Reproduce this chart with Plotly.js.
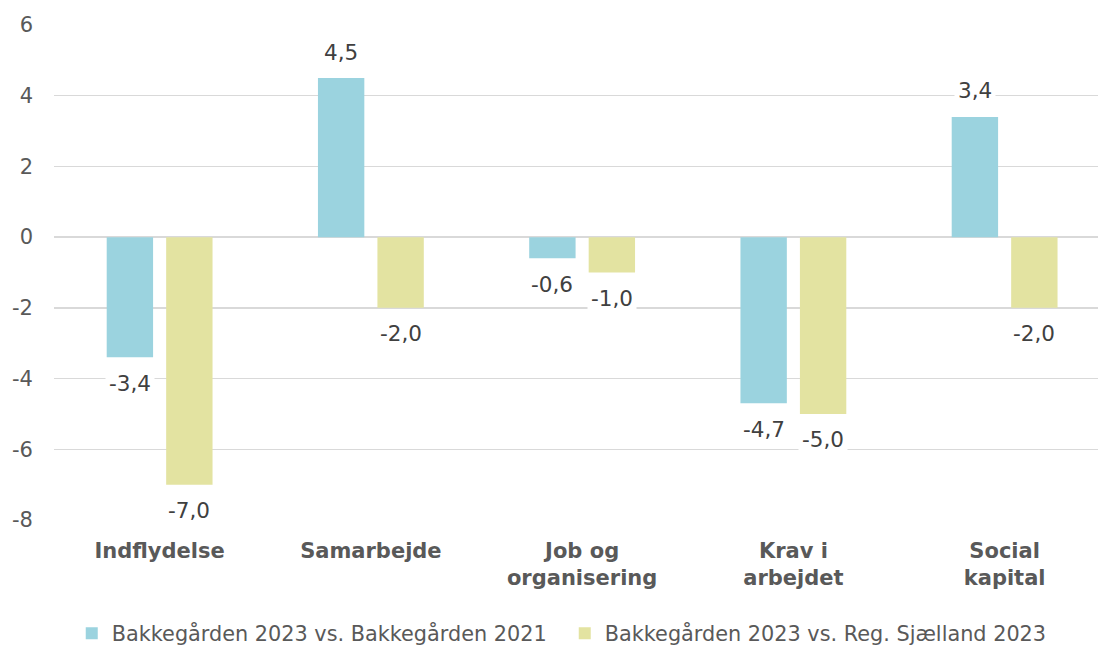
<!DOCTYPE html>
<html>
<head>
<meta charset="utf-8">
<script src="https://cdn.plot.ly/plotly-3.0.1.min.js"></script>
<style>html,body{margin:0;padding:0;background:#fff;overflow:hidden}</style>
</head>
<body>
<div id="chart" style="width:1098px;height:647px"></div>
<script>
const categories = ["Indflydelse", "Samarbejde", "Job og<br>organisering", "Krav i<br>arbejdet", "Social<br>kapital"];
const seriesNames = ["Bakkegården 2023 vs. Bakkegården 2021", "Bakkegården 2023 vs. Reg. Sjælland 2023"];
const series1 = [-3.4, 4.5, -0.6, -4.7, 3.4];
const series2 = [-7.0, -2.0, -1.0, -5.0, -2.0];
const yTicks = [-8, -6, -4, -2, 0, 2, 4, 6];
const yTickLabels = ["-8", "-6", "-4", "-2", "0", "2", "4", "6"];

const colors = ["#9bd3df", "#e3e3a1"];
const FONT = "DejaVu Sans, Verdana, sans-serif";
const bargap = 0.437, bargroupgap = 0.22;
const slot = (1 - bargap) / 2;
const fmt = v => v.toFixed(1).replace('.', ',');

const allSeries = [series1, series2];
const traces = allSeries.map((s, i) => ({
  type: 'bar', name: seriesNames[i], x: categories, y: s,
  marker: {color: colors[i]}, hoverinfo: 'skip'
}));

const annotations = [];
allSeries.forEach((s, i) => {
  const off = (i - 0.5) * slot;
  s.forEach((v, j) => {
    annotations.push({
      x: j + off, y: v, xref: 'x', yref: 'y', text: fmt(v), showarrow: false,
      yanchor: 'middle', yshift: v < 0 ? -26 : 26,
      bgcolor: '#ffffff', borderpad: 3,
      font: {family: FONT, size: 21.5, color: '#404040'}
    });
  });
});

const layout = {
  width: 1098, height: 647,
  margin: {l: 54, r: 0, t: 25, b: 127, autoexpand: false},
  paper_bgcolor: '#fff', plot_bgcolor: '#fff',
  barmode: 'group', bargap: bargap, bargroupgap: bargroupgap,
  font: {family: FONT, color: '#595959'},
  xaxis: {
    type: 'category', range: [-0.5, 4.442], showgrid: false, zeroline: false,
    showline: false, ticks: '', fixedrange: true, automargin: false,
    tickfont: {family: FONT, size: 21, color: '#595959', weight: 'bold'},
    ticklabelstandoff: 16
  },
  yaxis: {
    range: [-8, 6], tickvals: yTicks, ticktext: yTickLabels, automargin: false,
    showgrid: true, gridcolor: '#d9d9d9', gridwidth: 1.4,
    zeroline: true, zerolinecolor: '#d9d9d9', zerolinewidth: 1.4,
    showline: false, ticks: '', ticklabelstandoff: 20,
    tickfont: {family: FONT, size: 21, color: '#595959'}
  },
  showlegend: true,
  legend: {
    orientation: 'h', x: 0.017, xanchor: 'left', y: -0.23, yanchor: 'middle',
    font: {family: FONT, size: 20.8, color: '#595959'},
    itemwidth: 30, entrywidth: 448, traceorder: 'normal'
  },
  annotations: annotations
};

Plotly.newPlot('chart', traces, layout, {displayModeBar: false, staticPlot: true});
</script>
</body>
</html>
